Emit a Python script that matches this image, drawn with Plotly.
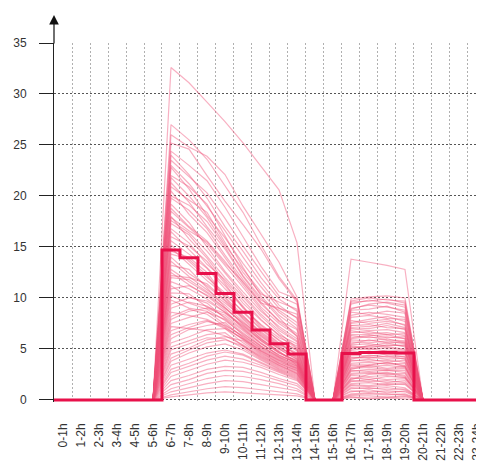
import plotly.graph_objects as go

hour_labels = [f"{h}-{h+1}h" for h in range(24)]

# Mean (thick step line), value per hour bin
mean_profile = [0, 0, 0, 0, 0, 0, 14.7, 13.95, 12.4, 10.45, 8.6, 6.86, 5.5, 4.5,
                0, 0, 4.55, 4.65, 4.65, 4.6, 0, 0, 0, 0]

# Individual daily profiles, one array per active hour (index = day)
h06 = [32.6, 27.0, 26.0, 25.2, 24.4, 24.0, 23.5, 22.8, 22.0, 21.3, 20.5, 20.0, 19.2, 18.5, 18.0, 17.3, 16.5, 16.0, 15.2, 14.6,
       14.0, 13.2, 12.5, 12.0, 11.2, 10.5, 9.8, 9.0, 8.2, 7.5, 6.8, 6.0, 5.2, 4.5, 3.8, 3.0, 2.3, 1.5, 0.8, 0.3,
       23.0, 21.8, 19.8, 18.8, 17.6, 16.8, 15.6, 14.9, 14.3, 13.6, 12.8, 12.2, 11.6, 10.9, 10.2, 9.4, 8.6, 7.9, 7.2, 6.4,
       5.6, 4.9, 4.1, 3.4, 2.7, 1.9, 1.1, 0.5, 20.9, 17.9]
h07 = [31.1, 25.5, 24.8, 24.6, 23.0, 22.1, 21.9, 20.7, 20.9, 19.4, 18.2, 19.1, 17.4, 16.9, 15.8, 16.2, 14.7, 15.1, 13.6, 14.0,
       12.4, 12.8, 11.3, 11.8, 10.1, 10.4, 9.0, 9.6, 8.9, 8.1, 7.4, 6.9, 5.8, 5.1, 4.6, 3.6, 2.9, 2.0, 1.2, 0.5,
       21.2, 20.0, 18.6, 17.0, 16.4, 15.4, 14.3, 13.3, 13.8, 12.1, 11.6, 12.0, 10.9, 11.2, 9.5, 10.0, 8.3, 8.7, 7.0, 7.1,
       6.2, 5.5, 4.9, 4.0, 3.3, 2.4, 1.6, 0.8, 19.6, 16.6]
h08 = [29.2, 23.6, 23.9, 22.0, 21.5, 19.8, 20.3, 18.1, 19.2, 17.0, 16.4, 17.5, 15.0, 15.3, 13.9, 14.1, 13.0, 13.6, 12.0, 12.5,
       11.2, 11.0, 10.2, 10.6, 9.5, 9.1, 8.7, 9.2, 8.4, 8.6, 7.8, 7.3, 6.4, 5.9, 5.2, 4.3, 3.5, 2.6, 1.6, 0.7,
       19.0, 17.9, 16.8, 15.6, 14.6, 13.3, 12.9, 11.7, 12.2, 10.8, 10.5, 11.4, 9.9, 10.3, 8.9, 9.7, 7.9, 9.0, 6.8, 7.7,
       6.9, 6.1, 5.6, 4.6, 3.9, 3.0, 2.1, 1.1, 18.4, 15.5]
h09 = [27.3, 21.0, 22.1, 19.5, 18.9, 17.0, 17.8, 15.9, 16.1, 14.8, 13.9, 15.0, 12.6, 13.2, 11.6, 12.0, 11.2, 11.4, 10.5, 10.1,
       9.7, 9.1, 8.8, 9.3, 8.0, 8.5, 7.4, 8.1, 7.2, 7.9, 7.0, 7.6, 6.6, 6.2, 5.5, 4.7, 3.9, 2.9, 1.9, 0.8,
       16.6, 15.2, 14.2, 13.6, 12.4, 11.8, 10.9, 10.3, 10.0, 9.5, 9.0, 9.8, 8.6, 9.0, 7.8, 8.6, 7.1, 8.3, 6.3, 7.3,
       7.0, 6.0, 5.9, 4.9, 4.3, 3.3, 2.4, 1.3, 15.5, 13.4]
h10 = [25.2, 18.4, 19.0, 17.2, 16.0, 14.6, 15.1, 13.4, 13.0, 12.1, 11.5, 12.2, 10.6, 11.0, 9.5, 10.1, 9.2, 9.0, 8.6, 8.3,
       7.9, 7.4, 7.0, 7.7, 6.6, 7.1, 6.2, 6.8, 5.9, 6.4, 5.6, 6.1, 5.3, 5.8, 4.9, 4.4, 3.7, 2.8, 1.8, 0.7,
       14.0, 12.8, 11.8, 11.3, 10.3, 9.8, 9.1, 8.7, 8.0, 8.1, 7.5, 8.2, 7.3, 7.6, 6.5, 7.2, 6.0, 6.9, 5.4, 6.3,
       6.0, 5.1, 5.3, 4.5, 4.0, 3.2, 2.3, 1.2, 12.5, 11.6]
h11 = [22.9, 15.2, 16.3, 14.8, 13.1, 12.0, 12.6, 11.1, 10.2, 9.8, 9.4, 10.0, 8.7, 8.9, 7.8, 8.2, 7.1, 7.4, 6.9, 6.5,
       6.2, 5.8, 5.5, 6.0, 5.2, 5.6, 4.9, 5.3, 4.6, 5.0, 4.4, 4.8, 4.1, 4.5, 3.9, 3.6, 3.2, 2.4, 1.5, 0.6,
       11.5, 10.6, 9.6, 9.1, 8.4, 7.9, 7.3, 7.0, 6.4, 6.6, 6.0, 6.7, 5.9, 6.3, 5.3, 5.8, 4.8, 5.5, 4.3, 5.1,
       4.7, 4.0, 4.2, 3.7, 3.4, 2.7, 2.0, 1.0, 10.4, 9.5]
h12 = [20.6, 12.1, 13.5, 11.9, 10.6, 9.9, 10.2, 9.0, 8.3, 8.8, 7.8, 8.1, 7.2, 7.0, 6.4, 6.6, 5.9, 6.1, 5.5, 5.2,
       5.0, 4.6, 4.4, 4.8, 4.1, 4.3, 3.8, 4.2, 3.6, 3.9, 3.4, 3.7, 3.2, 3.5, 3.0, 2.8, 2.5, 1.9, 1.2, 0.5,
       9.3, 8.6, 7.7, 7.5, 6.8, 6.3, 5.8, 5.6, 5.1, 5.3, 4.7, 5.4, 4.7, 5.0, 4.2, 4.6, 3.9, 4.4, 3.4, 4.0,
       3.6, 3.1, 3.3, 2.9, 2.7, 2.1, 1.6, 0.8, 9.6, 9.0]
h13 = [15.4, 9.8, 10.1, 9.6, 9.9, 8.7, 9.4, 8.1, 7.0, 7.6, 6.9, 6.2, 6.0, 5.8, 5.5, 5.1, 4.8, 5.3, 4.6, 4.2,
       4.0, 3.9, 3.6, 3.4, 3.3, 3.7, 3.0, 3.5, 2.9, 3.2, 2.7, 3.1, 2.5, 2.8, 2.3, 2.1, 1.9, 1.4, 0.9, 0.4,
       8.0, 7.3, 6.5, 6.3, 5.7, 5.0, 4.9, 4.4, 4.3, 4.1, 3.8, 4.5, 3.7, 4.0, 3.4, 3.8, 3.1, 3.6, 2.6, 3.3,
       2.9, 2.4, 2.6, 2.2, 2.0, 1.6, 1.1, 0.6, 8.9, 8.4]
h16 = [13.8, 9.9, 9.6, 9.0, 8.6, 8.1, 7.8, 7.3, 7.0, 6.6, 6.3, 6.0, 5.7, 5.4, 5.2, 4.9, 4.6, 4.4, 4.1, 3.9,
       3.6, 3.4, 3.1, 2.9, 2.6, 2.4, 2.1, 1.9, 1.6, 1.4, 1.1, 0.9, 0.6, 0.4, 0.2, 7.6, 5.0, 3.0, 2.0, 8.9,
       9.4, 8.8, 8.3, 7.5, 7.1, 6.8, 6.4, 5.9, 5.5, 5.1, 4.8, 4.5, 4.2, 3.8, 3.5, 3.2, 2.8, 2.5, 2.2, 1.8,
       1.5, 1.2, 0.8, 0.5, 0.3, 7.3, 6.1, 5.3, 9.7, 4.0]
h17 = [13.5, 10.1, 9.7, 9.3, 8.4, 8.3, 7.5, 7.4, 6.8, 6.7, 6.1, 6.2, 5.6, 5.5, 5.0, 5.0, 4.7, 4.3, 4.2, 3.8,
       3.7, 3.3, 3.2, 2.8, 2.7, 2.3, 2.2, 1.8, 1.7, 1.3, 1.2, 0.8, 0.7, 0.4, 0.2, 7.9, 5.3, 3.4, 2.5, 9.4,
       9.8, 8.9, 8.6, 7.7, 7.0, 6.5, 6.4, 5.8, 5.9, 5.3, 4.6, 4.8, 4.1, 4.0, 3.5, 3.4, 3.0, 2.6, 2.0, 2.0,
       1.4, 1.1, 1.0, 0.6, 0.1, 7.2, 6.3, 5.1, 10.0, 4.4]
h18 = [13.2, 10.2, 9.9, 9.1, 8.7, 8.0, 7.7, 7.1, 6.9, 6.4, 6.2, 5.9, 5.8, 5.3, 5.1, 4.8, 4.6, 4.5, 4.0, 3.9,
       3.5, 3.4, 3.0, 2.9, 2.5, 2.4, 2.0, 1.9, 1.5, 1.4, 1.0, 0.9, 0.6, 0.3, 0.2, 8.2, 5.6, 3.7, 2.6, 9.6,
       9.5, 9.2, 8.4, 7.9, 7.3, 6.6, 6.1, 6.0, 5.6, 5.2, 4.9, 4.4, 4.3, 3.7, 3.6, 3.1, 2.9, 2.7, 2.3, 1.7,
       1.6, 1.2, 0.7, 0.5, 0.2, 7.5, 6.4, 5.4, 9.8, 4.2]
h19 = [12.8, 10.0, 9.5, 8.8, 8.5, 7.9, 7.4, 7.0, 6.6, 6.5, 6.0, 5.8, 5.5, 5.4, 4.9, 4.7, 4.5, 4.2, 4.1, 3.7,
       3.6, 3.2, 3.1, 2.7, 2.6, 2.2, 2.1, 1.7, 1.6, 1.2, 1.1, 0.8, 0.5, 0.4, 0.1, 7.7, 5.2, 3.3, 2.3, 9.3,
       9.1, 8.6, 8.1, 7.3, 6.9, 6.3, 6.2, 5.6, 5.7, 5.0, 4.8, 4.6, 4.0, 3.9, 3.4, 3.3, 2.9, 2.4, 2.2, 1.9,
       1.5, 1.0, 0.9, 0.6, 0.3, 7.1, 6.0, 5.3, 9.7, 4.3]

active = {6: h06, 7: h07, 8: h08, 9: h09, 10: h10, 11: h11, 12: h12, 13: h13,
          16: h16, 17: h17, 18: h18, 19: h19}

fig = go.Figure()

centers = [h + 0.5 for h in range(24)]
n_days = len(h06)
for d in range(n_days):
    ys = [active[h][d] if h in active else 0 for h in range(24)]
    fig.add_trace(go.Scatter(
        x=centers, y=ys, mode="lines",
        line=dict(color="rgba(240,80,120,0.45)", width=1.2),
        hoverinfo="skip", showlegend=False))

step_x = list(range(25))
step_y = mean_profile + [mean_profile[-1]]
fig.add_trace(go.Scatter(
    x=step_x, y=step_y, mode="lines", line_shape="hv",
    line=dict(color="#e8104a", width=3), showlegend=False))

font = dict(family="Arial, Liberation Sans, sans-serif", size=12, color="#333333")

# The page body has an 8px default margin; size the figure to fit the window.
fig.update_layout(
    width=476, height=458,
    margin=dict(l=46, r=0, t=35, b=64, autoexpand=False),
    paper_bgcolor="white", plot_bgcolor="white",
    font=font,
    xaxis=dict(
        range=[0, 23.89], tickmode="array", tickvals=centers, ticktext=hour_labels,
        tickangle=-90, ticks="", showline=False, showgrid=False, zeroline=False,
        ticklabelstandoff=18, automargin=False, ticklabeloverflow="allow",
        minor=dict(tickmode="array", tickvals=list(range(1, 24)), showgrid=True,
                   griddash="2px,2px", gridcolor="#b0b0b0", gridwidth=1, ticks=""),
    ),
    yaxis=dict(
        range=[-0.2, 35], tickmode="array", tickvals=[0, 5, 10, 15, 20, 25, 30, 35],
        ticks="outside", ticklen=14, tickcolor="#222", tickwidth=1,
        showline=True, linecolor="#222", linewidth=1,
        showgrid=True, griddash="2px,2px", gridcolor="#555", gridwidth=1,
        zeroline=False, ticklabelstandoff=10, automargin=False,
    ),
)

fig.add_annotation(
    xref="paper", yref="paper", x=0, y=1 + 28 / 359, ax=0, ay=30,
    text="", showarrow=True, arrowhead=2, arrowsize=1.6, arrowwidth=1.2,
    arrowcolor="#111")

fig.write_html("out.html")
